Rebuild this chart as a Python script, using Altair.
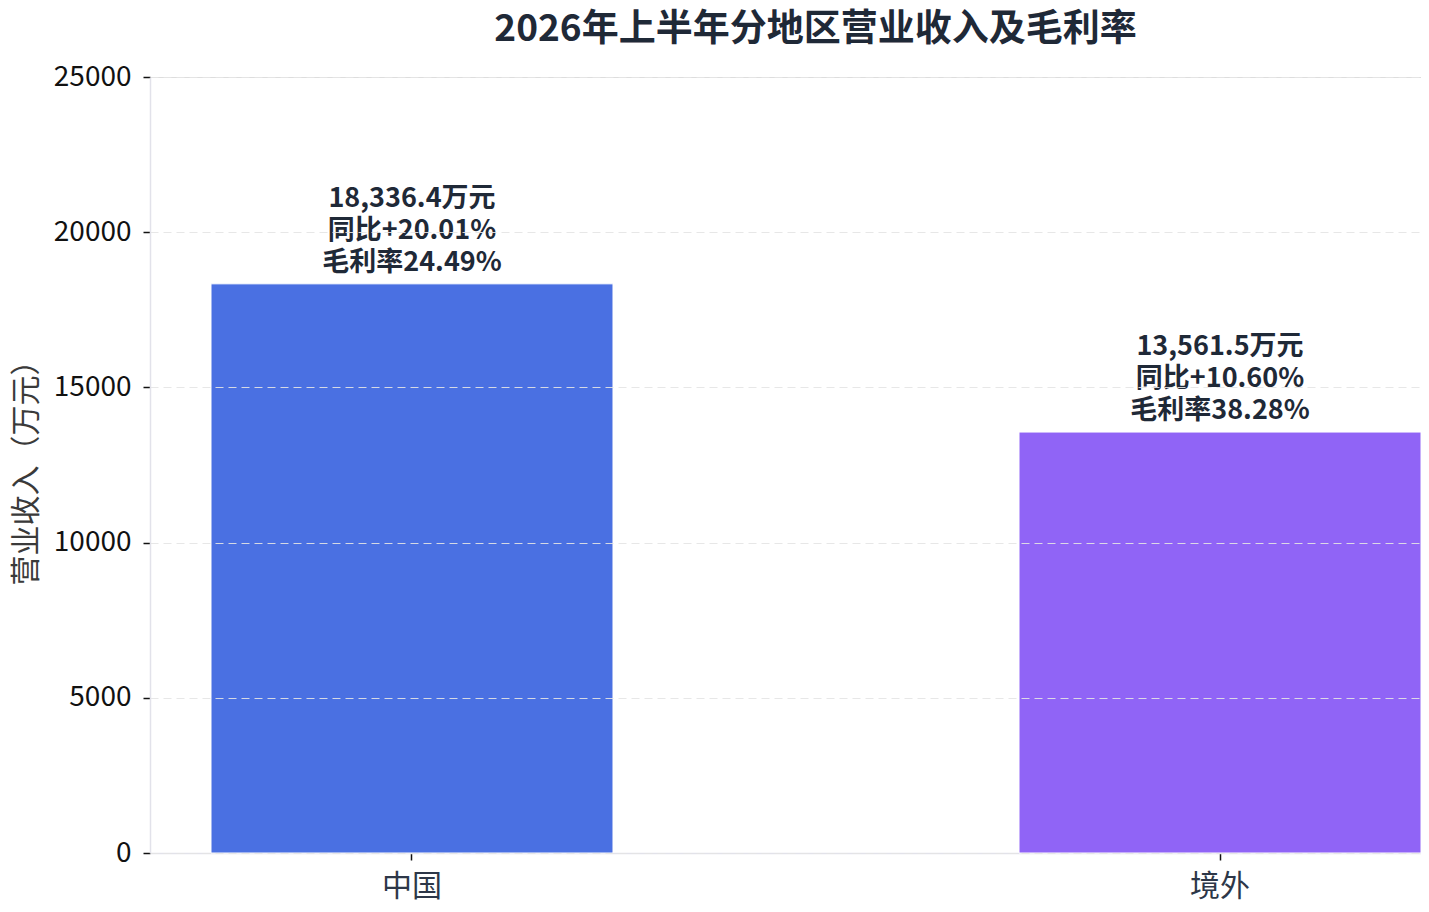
import altair as alt
import pandas as pd

regions = ["中国", "境外"]
revenue = [18336.4, 13561.5]
yoy = [20.01, 10.60]
margin = [24.49, 38.28]
colors = ["#4169E1", "#8B5CF6"]

labels = [f"{r:,.1f}万元\n同比+{y:.2f}%\n毛利率{m:.2f}%" for r, y, m in zip(revenue, yoy, margin)]
df = pd.DataFrame({"region": regions, "revenue": revenue, "label": labels})

FONT = "Noto Sans CJK SC"

x = alt.X("region:N", sort=regions, title=None,
          scale=alt.Scale(paddingInner=0.5025, paddingOuter=0.03775, align=1),
          axis=alt.Axis(labelAngle=0, labelFontSize=30, labelColor="#2d3748", labelFont=FONT,
                        domainColor="#e2e2ea", domainWidth=1.5, tickColor="#111111", tickSize=7,
                        tickWidth=1.5, labelPadding=11, grid=False))

y = alt.Y("revenue:Q", title="营业收入（万元）",
          scale=alt.Scale(domain=[0, 25000], nice=False),
          axis=alt.Axis(values=[0, 5000, 10000, 15000, 20000, 25000], format="d",
                        labelFontSize=28, labelColor="#111111", labelFont=FONT, labelPadding=12,
                        titleFontSize=30, titleColor="#3a3a3a", titleFont=FONT, titleFontWeight="normal",
                        titlePadding=12,
                        domainColor="#e2e2ea", domainWidth=1.5, tickColor="#111111", tickSize=7,
                        tickWidth=1.5, grid=True, gridColor="#e4e4e4", gridOpacity=0.9,
                        gridDash=[8, 5], gridWidth=1.2, zindex=1))

bars = alt.Chart(df).mark_bar(opacity=0.95, stroke="white", strokeWidth=1).encode(
    x=x, y=y,
    color=alt.Color("region:N", scale=alt.Scale(domain=regions, range=colors), legend=None),
)

text = alt.Chart(df).mark_text(baseline="bottom", dy=-71, fontSize=27, fontWeight="bold",
                               font=FONT, color="#1f2937", lineBreak="\n", lineHeight=32).encode(
    x=alt.X("region:N", sort=regions),
    y=alt.Y("revenue:Q"),
    text="label:N",
)

chart = (bars + text).properties(
    width=1271, height=776,
    autosize=alt.AutoSizeParams(type="none"),
    padding={"left": 142, "top": 69, "right": 0, "bottom": 50},
    title=alt.TitleParams("2026年上半年分地区营业收入及毛利率", fontSize=37, fontWeight="bold",
                          font=FONT, color="#1f2937", anchor="middle", dx=30, offset=14),
).configure_view(stroke=None).configure(background="white")

chart.save("out.html", embed_options={"renderer": "svg", "actions": False})
